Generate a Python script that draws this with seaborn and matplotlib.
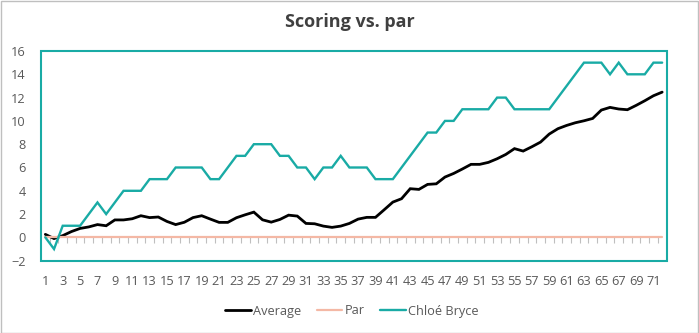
import numpy as np
import pandas as pd
import matplotlib
matplotlib.use("Agg")
import matplotlib.pyplot as plt
from matplotlib.patches import Rectangle
import seaborn as sns

# ---- data ----
holes = list(range(1, 73))
average = [0.26, -0.1, 0.15, 0.5, 0.77, 0.9, 1.1, 1.0, 1.5, 1.5,
           1.6, 1.86, 1.7, 1.75, 1.37, 1.1, 1.3, 1.7, 1.86, 1.57,
           1.29, 1.29, 1.69, 1.94, 2.17, 1.51, 1.31, 1.54, 1.91, 1.83,
           1.2, 1.17, 0.97, 0.86, 0.97, 1.2, 1.57, 1.72, 1.72, 2.37,
           3.03, 3.32, 4.18, 4.12, 4.55, 4.6, 5.18, 5.49, 5.87, 6.27,
           6.27, 6.44, 6.75, 7.12, 7.62, 7.41, 7.78, 8.18, 8.87, 9.33,
           9.61, 9.84, 10.01, 10.21, 10.93, 11.16, 11.02, 10.96, 11.33, 11.73,
           12.16, 12.47]
par = [0] * 72
chloe = [0, -1, 1, 1, 1, 2, 3, 2, 3, 4,
         4, 4, 5, 5, 5, 6, 6, 6, 6, 5,
         5, 6, 7, 7, 8, 8, 8, 7, 7, 6,
         6, 5, 6, 6, 7, 6, 6, 6, 5, 5,
         5, 6, 7, 8, 9, 9, 10, 10, 11, 11,
         11, 11, 12, 12, 11, 11, 11, 11, 11, 12,
         13, 14, 15, 15, 15, 14, 15, 14, 14, 14,
         15, 15]
series_names = ["Average", "Par", "Chloé Bryce"]
y_ticks = [-2, 0, 2, 4, 6, 8, 10, 12, 14, 16]
x_labels = list(range(1, 73, 2))
title = "Scoring vs. par"

colors = {"Average": "#000000", "Par": "#F4B8A5", "Chloé Bryce": "#19ABA5"}
widths = {"Average": 2.0, "Par": 1.6, "Chloé Bryce": 1.7}

df = pd.concat([
    pd.DataFrame({"hole": holes, "score": average, "series": "Average"}),
    pd.DataFrame({"hole": holes, "score": par, "series": "Par"}),
    pd.DataFrame({"hole": holes, "score": chloe, "series": "Chloé Bryce"}),
])

sns.set_theme(style="white")
plt.rcParams["font.family"] = ["Open Sans", "DejaVu Sans"]

fig = plt.figure(figsize=(6.99, 3.33), dpi=100)
ax = fig.add_axes([41 / 699, 1 - 260.7 / 333, (666.5 - 41) / 699, (260.7 - 51) / 333])

for name in series_names:
    sub = df[df["series"] == name]
    sns.lineplot(data=sub, x="hole", y="score", color=colors[name],
                 linewidth=widths[name], ax=ax, label=name, legend=False,
                 solid_joinstyle="miter")

ax.set_xlim(0.5, 72.5)
ax.set_ylim(-2, 16)
ax.set_yticks(y_ticks)
ax.set_xlabel("")
ax.set_ylabel("")
for s in ax.spines.values():
    s.set_visible(False)
ax.spines["bottom"].set_position(("data", 0))

# category boundary tick marks on the zero line
ax.set_xticks([])
ax.set_xticks(np.arange(1.5, 72, 1), minor=True)
ax.tick_params(axis="x", which="minor", bottom=True, direction="out",
               length=4, width=0.8, color="#BFBFBF", labelbottom=False)
ax.tick_params(axis="y", left=False, length=0, labelsize=9.2,
               labelcolor="#595959", pad=11)

sec = ax.secondary_xaxis("bottom")
sec.set_xticks(x_labels, [str(v) for v in x_labels])
sec.tick_params(length=0, labelsize=9.2, labelcolor="#595959", pad=10)
for s in sec.spines.values():
    s.set_visible(False)

ax.add_patch(Rectangle((0, 0), 1, 1, transform=ax.transAxes, fill=False,
                       edgecolor="#19ABA5", linewidth=1.5, clip_on=False, zorder=5))

fig.text(0.5, 1 - 22 / 333, title, ha="center", va="center",
         fontsize=13, fontweight="bold", color="#404040")

handles = ax.get_lines()[:3]
fig.legend(handles=handles, labels=series_names, loc="center",
           bbox_to_anchor=(352 / 699, 1 - 311 / 333), ncol=3, frameon=False,
           fontsize=9.2, handlelength=2.0, handletextpad=0.2, columnspacing=1.2,
           labelcolor="#595959")

fig.add_artist(Rectangle((0.5 / 699, 0.5 / 333), 697.5 / 699, 332 / 333,
                         transform=fig.transFigure, fill=False,
                         edgecolor="#BFBFBF", linewidth=1.0))

fig.savefig("out.png", dpi=100)
